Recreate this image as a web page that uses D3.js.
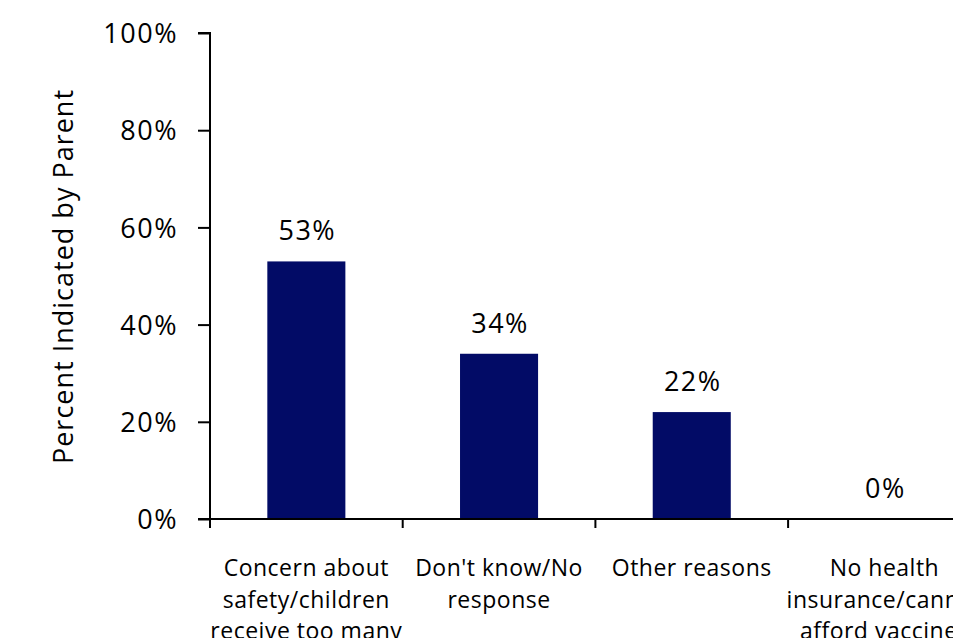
<!DOCTYPE html>
<html>
<head>
<meta charset="utf-8">
<script src="https://cdn.jsdelivr.net/npm/d3@7"></script>
<style>
  html, body { margin: 0; padding: 0; background: #fff; }
  svg { display: block; }
  text { font-family: "Open Sans", "Noto Sans", sans-serif; fill: #000; }
</style>
</head>
<body>
<svg id="chart" width="953" height="638"></svg>
<script>
// ---- data ----
const categories = [
  "Concern about|safety/children|receive too many|vaccines",
  "Don't know/No|response",
  "Other reasons",
  "No health|insurance/cannot|afford vaccines"
];
const values = [53, 34, 22, 0];
const yTicks = [0, 20, 40, 60, 80, 100];
const yTitle = "Percent Indicated by Parent";
const barColor = "#020B66";

// ---- layout ----
const svg = d3.select("#chart");
const x0 = 210, y0 = 519, yTop = 33;
const step = 192.7;

const x = d3.scaleBand()
  .domain(categories)
  .range([x0, x0 + step * categories.length])
  .paddingInner(0.595)
  .paddingOuter(0.2975);

const y = d3.scaleLinear().domain([0, 100]).range([y0, yTop]);

// bars
svg.selectAll("rect.bar")
  .data(values)
  .enter().append("rect")
  .attr("class", "bar")
  .attr("x", (d, i) => x(categories[i]))
  .attr("width", x.bandwidth())
  .attr("y", d => y(d))
  .attr("height", d => y0 - y(d))
  .attr("fill", barColor);

// data labels
svg.selectAll("text.val")
  .data(values)
  .enter().append("text")
  .attr("class", "val")
  .attr("x", (d, i) => x(categories[i]) + x.bandwidth() / 2 + 1)
  .attr("y", d => y(d) - 21)
  .attr("text-anchor", "middle")
  .style("font-size", "27px")
  .style("letter-spacing", "1.5px")
  .text(d => d + "%");

// y axis
const yAxis = d3.axisLeft(y)
  .tickValues(yTicks)
  .tickSize(12)
  .tickPadding(20)
  .tickFormat(d => d + "%");
const gy = svg.append("g").attr("transform", `translate(${x0},0)`).call(yAxis);
gy.select(".domain").attr("d", `M-12,${yTop}H0V${y0}`).attr("stroke", "#000").attr("stroke-width", 2);
gy.selectAll(".tick line").attr("stroke", "#000").attr("stroke-width", 2);
gy.selectAll(".tick text")
  .style("font-size", "27px")
  .style("letter-spacing", "1.5px")
  .style("font-family", "'Open Sans', sans-serif")
  .attr("fill", "#000")
  .attr("dy", "0.36em");

// x axis (band boundaries as ticks)
const bounds = d3.range(categories.length + 1).map(i => x0 + i * step);
svg.append("line")
  .attr("x1", x0 - 12).attr("x2", x0 + step * categories.length)
  .attr("y1", y0).attr("y2", y0)
  .attr("stroke", "#000").attr("stroke-width", 2);
svg.selectAll("line.xtick")
  .data(bounds)
  .enter().append("line")
  .attr("class", "xtick")
  .attr("x1", d => d).attr("x2", d => d)
  .attr("y1", y0).attr("y2", y0 + 9)
  .attr("stroke", "#000").attr("stroke-width", 2);

// category labels
svg.selectAll("text.cat")
  .data(categories)
  .enter().append("text")
  .attr("class", "cat")
  .attr("text-anchor", "middle")
  .style("font-size", "23px")
  .style("letter-spacing", "0.5px")
  .each(function (d) {
    const t = d3.select(this);
    const cx = x(d) + x.bandwidth() / 2;
    d.split("|").forEach((line, i) => {
      t.append("tspan")
        .attr("x", cx)
        .attr("y", 576 + i * 31.5)
        .text(line);
    });
  });

// y title
svg.append("text")
  .attr("transform", `translate(73,${(90 + 463) / 2}) rotate(-90)`)
  .attr("text-anchor", "middle")
  .style("font-size", "27px")
  .style("letter-spacing", "1px")
  .text(yTitle);
</script>
</body>
</html>
